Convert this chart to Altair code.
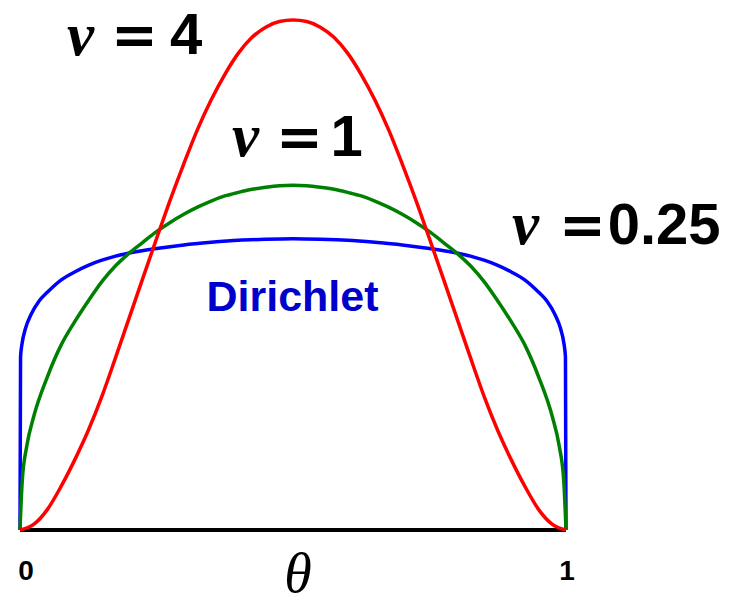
import altair as alt
import pandas as pd

# Shape of the prior density on theta for three concentration values (nu)
theta_red = [0, 0.025, 0.05, 0.075, 0.1, 0.125, 0.15, 0.175, 0.2, 0.225, 0.25,
             0.275, 0.3, 0.325, 0.35, 0.375, 0.4, 0.425, 0.45, 0.475, 0.5,
             0.525, 0.55, 0.575, 0.6, 0.625, 0.65, 0.675, 0.7, 0.725, 0.75,
             0.775, 0.8, 0.825, 0.85, 0.875, 0.9, 0.925, 0.95, 0.975, 1.0]
dens_nu4 = [0, 0.011, 0.040, 0.085, 0.137, 0.195, 0.262, 0.338, 0.416, 0.494, 0.571,
            0.647, 0.718, 0.785, 0.843, 0.893, 0.935, 0.966, 0.986, 0.997, 1.0,
            0.997, 0.986, 0.966, 0.935, 0.893, 0.843, 0.785, 0.718, 0.647, 0.571,
            0.494, 0.416, 0.338, 0.262, 0.195, 0.137, 0.085, 0.040, 0.011, 0]

theta_green = [0, 0.004, 0.0125, 0.025, 0.05, 0.075, 0.1, 0.125, 0.15, 0.175, 0.2,
               0.225, 0.25, 0.275, 0.3, 0.325, 0.35, 0.375, 0.4, 0.425, 0.45, 0.475, 0.5,
               0.525, 0.55, 0.575, 0.6, 0.625, 0.65, 0.675, 0.7, 0.725, 0.75, 0.775,
               0.8, 0.825, 0.85, 0.875, 0.9, 0.925, 0.95, 0.975, 0.9875, 0.996, 1.0]
dens_nu1 = [0, 0.095, 0.165, 0.222, 0.300, 0.362, 0.408, 0.449, 0.487, 0.518, 0.543,
            0.564, 0.585, 0.603, 0.619, 0.633, 0.645, 0.655, 0.662, 0.668, 0.672, 0.675, 0.676,
            0.675, 0.672, 0.668, 0.662, 0.655, 0.645, 0.633, 0.619, 0.603, 0.585, 0.564,
            0.543, 0.518, 0.487, 0.449, 0.408, 0.362, 0.300, 0.222, 0.165, 0.095, 0]

theta_blue = [0, 0.001, 0.004, 0.01, 0.02, 0.035, 0.05, 0.075, 0.1, 0.125, 0.15, 0.175,
              0.2, 0.25, 0.3, 0.35, 0.4, 0.45, 0.5, 0.55, 0.6, 0.65, 0.7, 0.75, 0.8,
              0.825, 0.85, 0.875, 0.9, 0.925, 0.95, 0.965, 0.98, 0.99, 0.996, 0.999, 1.0]
dens_nu025 = [0, 0.339, 0.367, 0.395, 0.422, 0.449, 0.466, 0.490, 0.506, 0.519, 0.529, 0.537,
              0.543, 0.552, 0.559, 0.564, 0.568, 0.570, 0.571, 0.570, 0.568, 0.564, 0.559, 0.552, 0.543,
              0.537, 0.529, 0.519, 0.506, 0.490, 0.466, 0.449, 0.422, 0.395, 0.367, 0.339, 0]

series_names = ["nu=0.25", "nu=1", "nu=4"]
series_colors = ["#0000FF", "#008000", "#FF0000"]

# Equation labels: greek nu, equals sign and value, positioned in data units
nu_x = [0.0861, 0.3883, 0.9011]
nu_y = [0.9314, 0.7333, 0.5608]
eq_x = [0.1667, 0.4689, 0.9872]
eq_y = [0.9333, 0.7333, 0.5608]
num_text = ["4", "1", "0.25"]
num_x = [0.2747, 0.5687, 1.0764]
num_y = [0.9333, 0.7333, 0.5608]

tick_text = ["0", "1"]
tick_x = [0.011, 1.0018]
tick_y = -0.098

rows = []
for name, th, dv in [("nu=0.25", theta_blue, dens_nu025),
                     ("nu=1", theta_green, dens_nu1),
                     ("nu=4", theta_red, dens_nu4)]:
    for t, d in zip(th, dv):
        rows.append({"series": name, "theta": t, "density": d})
curves_df = pd.DataFrame(rows)

xs = alt.Scale(domain=[0, 1], nice=False, zero=False)
ys = alt.Scale(domain=[0, 1], nice=False, zero=False)


def pos():
    return dict(x=alt.X("x:Q", scale=xs, axis=None),
                y=alt.Y("y:Q", scale=ys, axis=None),
                text="t:N")


baseline = alt.Chart(pd.DataFrame({"a": [0], "b": [1], "y": [0]})).mark_rule(
    color="black", strokeWidth=4
).encode(
    x=alt.X("a:Q", scale=xs, axis=None),
    x2="b:Q",
    y=alt.Y("y:Q", scale=ys, axis=None),
)

curves = alt.Chart(curves_df).mark_line(strokeWidth=3.5, interpolate="monotone").encode(
    x=alt.X("theta:Q", scale=xs, axis=None),
    y=alt.Y("density:Q", scale=ys, axis=None),
    color=alt.Color("series:N", scale=alt.Scale(domain=series_names, range=series_colors), legend=None),
    order=alt.Order("theta:Q"),
    detail="series:N",
)

nu_df = pd.DataFrame({"t": ["ν"] * 3, "x": nu_x, "y": nu_y})
nu_text = alt.Chart(nu_df).mark_text(
    font="Liberation Serif", fontStyle="italic", fontWeight="bold", fontSize=61,
    align="left", baseline="alphabetic", color="black"
).encode(**pos())

eq_df = pd.DataFrame({"t": ["="] * 3, "x": eq_x, "y": eq_y})
eq_text = alt.Chart(eq_df).mark_text(
    font="DejaVu Sans", fontWeight="bold", fontSize=56, align="left",
    baseline="alphabetic", color="black"
).encode(**pos())

num_df = pd.DataFrame({"t": num_text, "x": num_x, "y": num_y})
num_text_layer = alt.Chart(num_df).mark_text(
    font="Liberation Sans", fontWeight="bold", fontSize=58, align="left",
    baseline="alphabetic", color="black"
).encode(**pos())

dir_text = alt.Chart(pd.DataFrame({"t": ["Dirichlet"], "x": [0.4991], "y": [0.4294]})).mark_text(
    font="Liberation Sans", fontWeight="bold", fontSize=43, align="center",
    baseline="alphabetic", color="#0000CC"
).encode(**pos())

theta_text = alt.Chart(pd.DataFrame({"t": ["θ"], "x": [0.5092], "y": [-0.1216]})).mark_text(
    font="Liberation Serif", fontStyle="italic", fontSize=56, align="center",
    baseline="alphabetic", color="black"
).encode(**pos())

tick_df = pd.DataFrame({"t": tick_text, "x": tick_x, "y": [tick_y] * 2})
tick_text_layer = alt.Chart(tick_df).mark_text(
    font="Liberation Sans", fontWeight="bold", fontSize=28, align="center",
    baseline="alphabetic", color="black"
).encode(**pos())

chart = alt.layer(
    baseline, curves, nu_text, eq_text, num_text_layer, dir_text, theta_text, tick_text_layer
).properties(
    width=546,
    height=510,
    padding={"left": 20, "top": 20, "right": 170, "bottom": 75},
    autosize=alt.AutoSizeParams(type="none"),
    background="white",
).configure_view(stroke=None)

chart.save("out.html", embed_options={"renderer": "svg", "actions": False})
